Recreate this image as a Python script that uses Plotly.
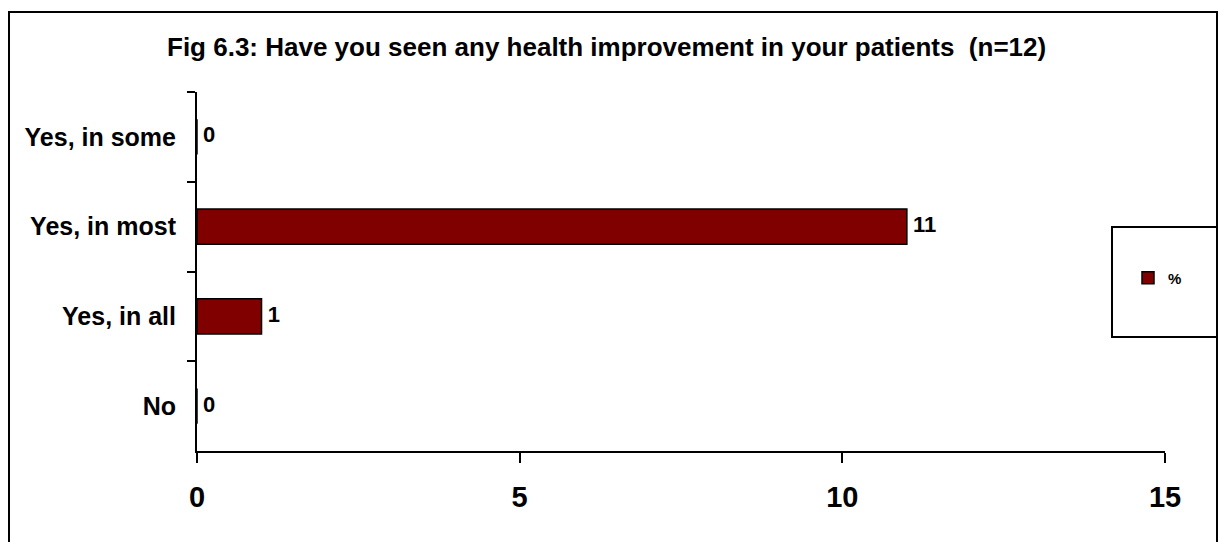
import plotly.graph_objects as go

# data, top to bottom as in the chart
categories = ["Yes, in some", "Yes, in most", "Yes, in all", "No"]
values = [0, 11, 1, 0]
x_ticks = [0, 5, 10, 15]

title_text = "Fig 6.3: Have you seen any health improvement in your patients  (n=12)"
series_name = "%"

FONT = "Liberation Sans, Arial, sans-serif"
BAR_COLOR = "#800000"

fig = go.Figure()

fig.add_trace(
    go.Bar(
        x=values,
        y=categories,
        orientation="h",
        name=series_name,
        width=0.39,
        marker=dict(color=BAR_COLOR, line=dict(color="black", width=1.5)),
        hoverinfo="x+y",
    )
)

# value labels (also drawn for the zero rows)
fig.add_trace(
    go.Scatter(
        x=values,
        y=categories,
        mode="text",
        text=["\u00a0" + str(v) for v in values],
        textposition="middle right",
        textfont=dict(family=FONT, size=22, color="black", weight="bold"),
        showlegend=False,
        hoverinfo="skip",
    )
)

# full page, body margin removed in the html (see post_script below)
W, H = 1220, 542
# plot area in page pixels: x 197..1165, y 92..451
L, R = 197, W - 1165
T, B = 92, H - 451
pw, ph = W - L - R, H - T - B


def px(x):
    return (x - L) / pw


def py(y):
    return (H - B - y) / ph


fig.update_layout(
    width=W,
    height=H,
    margin=dict(l=L, r=R, t=T, b=B),
    paper_bgcolor="white",
    plot_bgcolor="white",
    font=dict(family=FONT, color="black"),
    showlegend=True,
    legend=dict(
        x=px(1128),
        y=py(278),
        xanchor="left",
        yanchor="middle",
        font=dict(family=FONT, size=15, weight="bold"),
        bgcolor="rgba(0,0,0,0)",
    ),
    xaxis=dict(
        range=[0, 15],
        tickvals=x_ticks,
        ticks="outside",
        ticklen=10,
        tickwidth=2,
        tickcolor="black",
        showline=True,
        linecolor="black",
        linewidth=2,
        showgrid=False,
        zeroline=False,
        ticklabelstandoff=9,
        tickfont=dict(family=FONT, size=29, weight="bold"),
    ),
    yaxis=dict(
        autorange="reversed",
        tickson="boundaries",
        ticks="outside",
        ticklen=8,
        tickwidth=2,
        tickcolor="black",
        showline=True,
        linecolor="black",
        linewidth=2,
        showgrid=False,
        zeroline=False,
        ticklabelstandoff=14,
        tickfont=dict(family=FONT, size=25, weight="bold"),
    ),
    annotations=[
        dict(
            text=title_text,
            xref="paper",
            yref="paper",
            x=px(606),
            y=py(47),
            xanchor="center",
            yanchor="middle",
            showarrow=False,
            font=dict(family=FONT, size=26, weight="bold"),
        )
    ],
    shapes=[
        # outer chart frame (bottom edge runs off the page)
        dict(
            type="rect",
            xref="paper",
            yref="paper",
            x0=px(9),
            x1=px(1217),
            y0=py(570),
            y1=py(12),
            line=dict(color="black", width=2),
            fillcolor="rgba(0,0,0,0)",
            layer="below",
        ),
        # legend frame
        dict(
            type="rect",
            xref="paper",
            yref="paper",
            x0=px(1112),
            x1=px(1217),
            y0=py(337),
            y1=py(227),
            line=dict(color="black", width=2),
            fillcolor="rgba(0,0,0,0)",
            layer="below",
        ),
    ],
)

fig.write_html(
    "out.html",
    config={"displayModeBar": False},
    post_script="document.body.style.margin='0';document.body.style.overflow='hidden';",
)
